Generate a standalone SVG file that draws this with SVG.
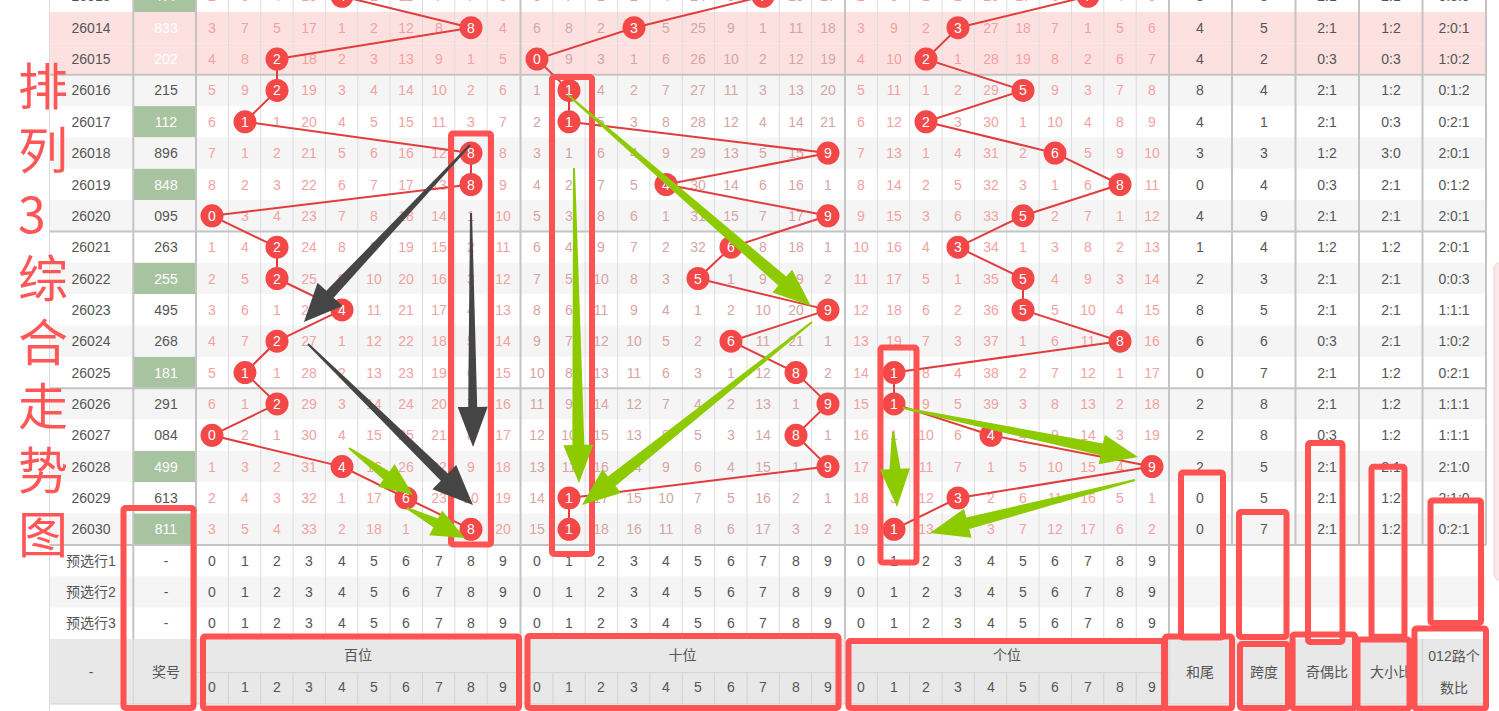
<svg xmlns="http://www.w3.org/2000/svg" width="1499" height="711" viewBox="0 0 1499 711">
<defs>
<style>
text{font-family:"Liberation Sans",Arial,"Noto Sans CJK SC",sans-serif;font-size:14px;text-anchor:middle}
.bw{fill:#ffffff}.bg{fill:#f5f5f5}.bp{fill:#fde1e1}.gc{fill:#a8c3a0}
.d{fill:#555555}.w{fill:#ffffff}.o{fill:#f3a2a2}.o2{fill:#d6a5a5}
.thin{stroke:#dddddd;stroke-width:1}
.thick{stroke:#c4c4c4;stroke-width:2}
.fl{stroke:#d2d2d2;stroke-width:1}
.conn{fill:none;stroke:#e23d3d;stroke-width:2;stroke-linejoin:round}
.ball circle{fill:#f44848}
.ball text{fill:#ffffff}
.box{fill:none;stroke:#ff5252;stroke-width:6;stroke-linejoin:round}
.darr{fill:#454545}
.garr{fill:#8dcb00}
.title{font-family:"Noto Sans CJK SC","Noto Sans CJK JP",sans-serif;font-size:50px;fill:#ff5757;text-anchor:start}
</style>
</defs>
<rect x="0" y="0" width="1499" height="711" fill="#ffffff"/>
<rect x="1494" y="263" width="10" height="317" rx="5" fill="#fce8e8" stroke="#f6cfcf" stroke-width="1"/>

<g id="rows">
<g id="row26013" transform="translate(0,1.3)"><rect class="bw" x="50" y="-20.7" width="1436" height="31.4"/><rect class="gc" x="134" y="-20.7" width="62" height="31.4"/><text class="d" x="91">26013</text><text class="w" x="166">477</text>
<g class="o"><text x="212">2</text><text x="245">6</text><text x="277">4</text><text x="309">16</text><text x="374">1</text><text x="406">11</text><text x="439">7</text><text x="471">7</text><text x="503">3</text></g>
<g class="o2"><text x="537">5</text><text x="569">7</text><text x="601">1</text><text x="634">2</text><text x="666">4</text><text x="698">24</text><text x="731">8</text><text x="796">10</text><text x="828">17</text></g>
<g class="o"><text x="861">2</text><text x="894">8</text><text x="926">1</text><text x="958">2</text><text x="991">26</text><text x="1023">17</text><text x="1055">6</text><text x="1120">4</text><text x="1152">5</text></g>
<g class="d"><text x="1200">8</text><text x="1264">3</text><text x="1327">2:1</text><text x="1391">2:1</text><text x="1454">0:3:0</text></g></g>

<g id="row26014" transform="translate(0,32.7)"><rect class="bp" x="50" y="-20.7" width="1436" height="31.4"/><text class="d" x="91">26014</text><text class="w" x="166">833</text>
<g class="o"><text x="212">3</text><text x="245">7</text><text x="277">5</text><text x="309">17</text><text x="342">1</text><text x="374">2</text><text x="406">12</text><text x="439">8</text><text x="503">4</text></g>
<g class="o2"><text x="537">6</text><text x="569">8</text><text x="601">2</text><text x="666">5</text><text x="698">25</text><text x="731">9</text><text x="763">1</text><text x="796">11</text><text x="828">18</text></g>
<g class="o"><text x="861">3</text><text x="894">9</text><text x="926">2</text><text x="991">27</text><text x="1023">18</text><text x="1055">7</text><text x="1088">1</text><text x="1120">5</text><text x="1152">6</text></g>
<g class="d"><text x="1200">4</text><text x="1264">5</text><text x="1327">2:1</text><text x="1391">1:2</text><text x="1454">2:0:1</text></g></g>

<g id="row26015" transform="translate(0,64.1)"><rect class="bp" x="50" y="-20.7" width="1436" height="31.4"/><text class="d" x="91">26015</text><text class="w" x="166">202</text>
<g class="o"><text x="212">4</text><text x="245">8</text><text x="309">18</text><text x="342">2</text><text x="374">3</text><text x="406">13</text><text x="439">9</text><text x="471">1</text><text x="503">5</text></g>
<g class="o2"><text x="569">9</text><text x="601">3</text><text x="634">1</text><text x="666">6</text><text x="698">26</text><text x="731">10</text><text x="763">2</text><text x="796">12</text><text x="828">19</text></g>
<g class="o"><text x="861">4</text><text x="894">10</text><text x="958">1</text><text x="991">28</text><text x="1023">19</text><text x="1055">8</text><text x="1088">2</text><text x="1120">6</text><text x="1152">7</text></g>
<g class="d"><text x="1200">4</text><text x="1264">2</text><text x="1327">0:3</text><text x="1391">0:3</text><text x="1454">1:0:2</text></g></g>

<g id="row26016" transform="translate(0,95.4)"><rect class="bg" x="50" y="-20.7" width="1436" height="31.4"/><text class="d" x="91">26016</text><text class="d" x="166">215</text>
<g class="o"><text x="212">5</text><text x="245">9</text><text x="309">19</text><text x="342">3</text><text x="374">4</text><text x="406">14</text><text x="439">10</text><text x="471">2</text><text x="503">6</text></g>
<g class="o2"><text x="537">1</text><text x="601">4</text><text x="634">2</text><text x="666">7</text><text x="698">27</text><text x="731">11</text><text x="763">3</text><text x="796">13</text><text x="828">20</text></g>
<g class="o"><text x="861">5</text><text x="894">11</text><text x="926">1</text><text x="958">2</text><text x="991">29</text><text x="1055">9</text><text x="1088">3</text><text x="1120">7</text><text x="1152">8</text></g>
<g class="d"><text x="1200">8</text><text x="1264">4</text><text x="1327">2:1</text><text x="1391">1:2</text><text x="1454">0:1:2</text></g></g>

<g id="row26017" transform="translate(0,126.8)"><rect class="bw" x="50" y="-20.7" width="1436" height="31.4"/><rect class="gc" x="134" y="-20.7" width="62" height="31.4"/><text class="d" x="91">26017</text><text class="w" x="166">112</text>
<g class="o"><text x="212">6</text><text x="277">1</text><text x="309">20</text><text x="342">4</text><text x="374">5</text><text x="406">15</text><text x="439">11</text><text x="471">3</text><text x="503">7</text></g>
<g class="o2"><text x="537">2</text><text x="601">5</text><text x="634">3</text><text x="666">8</text><text x="698">28</text><text x="731">12</text><text x="763">4</text><text x="796">14</text><text x="828">21</text></g>
<g class="o"><text x="861">6</text><text x="894">12</text><text x="958">3</text><text x="991">30</text><text x="1023">1</text><text x="1055">10</text><text x="1088">4</text><text x="1120">8</text><text x="1152">9</text></g>
<g class="d"><text x="1200">4</text><text x="1264">1</text><text x="1327">2:1</text><text x="1391">0:3</text><text x="1454">0:2:1</text></g></g>

<g id="row26018" transform="translate(0,158.1)"><rect class="bg" x="50" y="-20.7" width="1436" height="31.4"/><text class="d" x="91">26018</text><text class="d" x="166">896</text>
<g class="o"><text x="212">7</text><text x="245">1</text><text x="277">2</text><text x="309">21</text><text x="342">5</text><text x="374">6</text><text x="406">16</text><text x="439">12</text><text x="503">8</text></g>
<g class="o2"><text x="537">3</text><text x="569">1</text><text x="601">6</text><text x="634">4</text><text x="666">9</text><text x="698">29</text><text x="731">13</text><text x="763">5</text><text x="796">15</text></g>
<g class="o"><text x="861">7</text><text x="894">13</text><text x="926">1</text><text x="958">4</text><text x="991">31</text><text x="1023">2</text><text x="1088">5</text><text x="1120">9</text><text x="1152">10</text></g>
<g class="d"><text x="1200">3</text><text x="1264">3</text><text x="1327">1:2</text><text x="1391">3:0</text><text x="1454">2:0:1</text></g></g>

<g id="row26019" transform="translate(0,189.5)"><rect class="bw" x="50" y="-20.7" width="1436" height="31.4"/><rect class="gc" x="134" y="-20.7" width="62" height="31.4"/><text class="d" x="91">26019</text><text class="w" x="166">848</text>
<g class="o"><text x="212">8</text><text x="245">2</text><text x="277">3</text><text x="309">22</text><text x="342">6</text><text x="374">7</text><text x="406">17</text><text x="439">13</text><text x="503">9</text></g>
<g class="o2"><text x="537">4</text><text x="569">2</text><text x="601">7</text><text x="634">5</text><text x="698">30</text><text x="731">14</text><text x="763">6</text><text x="796">16</text><text x="828">1</text></g>
<g class="o"><text x="861">8</text><text x="894">14</text><text x="926">2</text><text x="958">5</text><text x="991">32</text><text x="1023">3</text><text x="1055">1</text><text x="1088">6</text><text x="1152">11</text></g>
<g class="d"><text x="1200">0</text><text x="1264">4</text><text x="1327">0:3</text><text x="1391">2:1</text><text x="1454">0:1:2</text></g></g>

<g id="row26020" transform="translate(0,220.8)"><rect class="bg" x="50" y="-20.7" width="1436" height="31.4"/><text class="d" x="91">26020</text><text class="d" x="166">095</text>
<g class="o"><text x="245">3</text><text x="277">4</text><text x="309">23</text><text x="342">7</text><text x="374">8</text><text x="406">18</text><text x="439">14</text><text x="471">1</text><text x="503">10</text></g>
<g class="o2"><text x="537">5</text><text x="569">3</text><text x="601">8</text><text x="634">6</text><text x="666">1</text><text x="698">31</text><text x="731">15</text><text x="763">7</text><text x="796">17</text></g>
<g class="o"><text x="861">9</text><text x="894">15</text><text x="926">3</text><text x="958">6</text><text x="991">33</text><text x="1055">2</text><text x="1088">7</text><text x="1120">1</text><text x="1152">12</text></g>
<g class="d"><text x="1200">4</text><text x="1264">9</text><text x="1327">2:1</text><text x="1391">2:1</text><text x="1454">2:0:1</text></g></g>

<g id="row26021" transform="translate(0,252.2)"><rect class="bw" x="50" y="-20.7" width="1436" height="31.4"/><text class="d" x="91">26021</text><text class="d" x="166">263</text>
<g class="o"><text x="212">1</text><text x="245">4</text><text x="309">24</text><text x="342">8</text><text x="374">9</text><text x="406">19</text><text x="439">15</text><text x="471">2</text><text x="503">11</text></g>
<g class="o2"><text x="537">6</text><text x="569">4</text><text x="601">9</text><text x="634">7</text><text x="666">2</text><text x="698">32</text><text x="763">8</text><text x="796">18</text><text x="828">1</text></g>
<g class="o"><text x="861">10</text><text x="894">16</text><text x="926">4</text><text x="991">34</text><text x="1023">1</text><text x="1055">3</text><text x="1088">8</text><text x="1120">2</text><text x="1152">13</text></g>
<g class="d"><text x="1200">1</text><text x="1264">4</text><text x="1327">1:2</text><text x="1391">1:2</text><text x="1454">2:0:1</text></g></g>

<g id="row26022" transform="translate(0,283.5)"><rect class="bg" x="50" y="-20.7" width="1436" height="31.4"/><rect class="gc" x="134" y="-20.7" width="62" height="31.4"/><text class="d" x="91">26022</text><text class="w" x="166">255</text>
<g class="o"><text x="212">2</text><text x="245">5</text><text x="309">25</text><text x="342">9</text><text x="374">10</text><text x="406">20</text><text x="439">16</text><text x="471">3</text><text x="503">12</text></g>
<g class="o2"><text x="537">7</text><text x="569">5</text><text x="601">10</text><text x="634">8</text><text x="666">3</text><text x="731">1</text><text x="763">9</text><text x="796">19</text><text x="828">2</text></g>
<g class="o"><text x="861">11</text><text x="894">17</text><text x="926">5</text><text x="958">1</text><text x="991">35</text><text x="1055">4</text><text x="1088">9</text><text x="1120">3</text><text x="1152">14</text></g>
<g class="d"><text x="1200">2</text><text x="1264">3</text><text x="1327">2:1</text><text x="1391">2:1</text><text x="1454">0:0:3</text></g></g>

<g id="row26023" transform="translate(0,314.9)"><rect class="bw" x="50" y="-20.7" width="1436" height="31.4"/><text class="d" x="91">26023</text><text class="d" x="166">495</text>
<g class="o"><text x="212">3</text><text x="245">6</text><text x="277">1</text><text x="309">26</text><text x="374">11</text><text x="406">21</text><text x="439">17</text><text x="471">4</text><text x="503">13</text></g>
<g class="o2"><text x="537">8</text><text x="569">6</text><text x="601">11</text><text x="634">9</text><text x="666">4</text><text x="698">1</text><text x="731">2</text><text x="763">10</text><text x="796">20</text></g>
<g class="o"><text x="861">12</text><text x="894">18</text><text x="926">6</text><text x="958">2</text><text x="991">36</text><text x="1055">5</text><text x="1088">10</text><text x="1120">4</text><text x="1152">15</text></g>
<g class="d"><text x="1200">8</text><text x="1264">5</text><text x="1327">2:1</text><text x="1391">2:1</text><text x="1454">1:1:1</text></g></g>

<g id="row26024" transform="translate(0,346.2)"><rect class="bg" x="50" y="-20.7" width="1436" height="31.4"/><text class="d" x="91">26024</text><text class="d" x="166">268</text>
<g class="o"><text x="212">4</text><text x="245">7</text><text x="309">27</text><text x="342">1</text><text x="374">12</text><text x="406">22</text><text x="439">18</text><text x="471">5</text><text x="503">14</text></g>
<g class="o2"><text x="537">9</text><text x="569">7</text><text x="601">12</text><text x="634">10</text><text x="666">5</text><text x="698">2</text><text x="763">11</text><text x="796">21</text><text x="828">1</text></g>
<g class="o"><text x="861">13</text><text x="894">19</text><text x="926">7</text><text x="958">3</text><text x="991">37</text><text x="1023">1</text><text x="1055">6</text><text x="1088">11</text><text x="1152">16</text></g>
<g class="d"><text x="1200">6</text><text x="1264">6</text><text x="1327">0:3</text><text x="1391">2:1</text><text x="1454">1:0:2</text></g></g>

<g id="row26025" transform="translate(0,377.6)"><rect class="bw" x="50" y="-20.7" width="1436" height="31.4"/><rect class="gc" x="134" y="-20.7" width="62" height="31.4"/><text class="d" x="91">26025</text><text class="w" x="166">181</text>
<g class="o"><text x="212">5</text><text x="277">1</text><text x="309">28</text><text x="342">2</text><text x="374">13</text><text x="406">23</text><text x="439">19</text><text x="471">6</text><text x="503">15</text></g>
<g class="o2"><text x="537">10</text><text x="569">8</text><text x="601">13</text><text x="634">11</text><text x="666">6</text><text x="698">3</text><text x="731">1</text><text x="763">12</text><text x="828">2</text></g>
<g class="o"><text x="861">14</text><text x="926">8</text><text x="958">4</text><text x="991">38</text><text x="1023">2</text><text x="1055">7</text><text x="1088">12</text><text x="1120">1</text><text x="1152">17</text></g>
<g class="d"><text x="1200">0</text><text x="1264">7</text><text x="1327">2:1</text><text x="1391">1:2</text><text x="1454">0:2:1</text></g></g>

<g id="row26026" transform="translate(0,408.9)"><rect class="bg" x="50" y="-20.7" width="1436" height="31.4"/><text class="d" x="91">26026</text><text class="d" x="166">291</text>
<g class="o"><text x="212">6</text><text x="245">1</text><text x="309">29</text><text x="342">3</text><text x="374">14</text><text x="406">24</text><text x="439">20</text><text x="471">7</text><text x="503">16</text></g>
<g class="o2"><text x="537">11</text><text x="569">9</text><text x="601">14</text><text x="634">12</text><text x="666">7</text><text x="698">4</text><text x="731">2</text><text x="763">13</text><text x="796">1</text></g>
<g class="o"><text x="861">15</text><text x="926">9</text><text x="958">5</text><text x="991">39</text><text x="1023">3</text><text x="1055">8</text><text x="1088">13</text><text x="1120">2</text><text x="1152">18</text></g>
<g class="d"><text x="1200">2</text><text x="1264">8</text><text x="1327">2:1</text><text x="1391">1:2</text><text x="1454">1:1:1</text></g></g>

<g id="row26027" transform="translate(0,440.3)"><rect class="bw" x="50" y="-20.7" width="1436" height="31.4"/><text class="d" x="91">26027</text><text class="d" x="166">084</text>
<g class="o"><text x="245">2</text><text x="277">1</text><text x="309">30</text><text x="342">4</text><text x="374">15</text><text x="406">25</text><text x="439">21</text><text x="471">8</text><text x="503">17</text></g>
<g class="o2"><text x="537">12</text><text x="569">10</text><text x="601">15</text><text x="634">13</text><text x="666">8</text><text x="698">5</text><text x="731">3</text><text x="763">14</text><text x="828">1</text></g>
<g class="o"><text x="861">16</text><text x="894">1</text><text x="926">10</text><text x="958">6</text><text x="1023">4</text><text x="1055">9</text><text x="1088">14</text><text x="1120">3</text><text x="1152">19</text></g>
<g class="d"><text x="1200">2</text><text x="1264">8</text><text x="1327">0:3</text><text x="1391">1:2</text><text x="1454">1:1:1</text></g></g>

<g id="row26028" transform="translate(0,471.6)"><rect class="bg" x="50" y="-20.7" width="1436" height="31.4"/><rect class="gc" x="134" y="-20.7" width="62" height="31.4"/><text class="d" x="91">26028</text><text class="w" x="166">499</text>
<g class="o"><text x="212">1</text><text x="245">3</text><text x="277">2</text><text x="309">31</text><text x="374">16</text><text x="406">26</text><text x="439">22</text><text x="471">9</text><text x="503">18</text></g>
<g class="o2"><text x="537">13</text><text x="569">11</text><text x="601">16</text><text x="634">14</text><text x="666">9</text><text x="698">6</text><text x="731">4</text><text x="763">15</text><text x="796">1</text></g>
<g class="o"><text x="861">17</text><text x="894">2</text><text x="926">11</text><text x="958">7</text><text x="991">1</text><text x="1023">5</text><text x="1055">10</text><text x="1088">15</text><text x="1120">4</text></g>
<g class="d"><text x="1200">2</text><text x="1264">5</text><text x="1327">2:1</text><text x="1391">2:1</text><text x="1454">2:1:0</text></g></g>

<g id="row26029" transform="translate(0,503)"><rect class="bw" x="50" y="-20.7" width="1436" height="31.4"/><text class="d" x="91">26029</text><text class="d" x="166">613</text>
<g class="o"><text x="212">2</text><text x="245">4</text><text x="277">3</text><text x="309">32</text><text x="342">1</text><text x="374">17</text><text x="439">23</text><text x="471">10</text><text x="503">19</text></g>
<g class="o2"><text x="537">14</text><text x="601">17</text><text x="634">15</text><text x="666">10</text><text x="698">7</text><text x="731">5</text><text x="763">16</text><text x="796">2</text><text x="828">1</text></g>
<g class="o"><text x="861">18</text><text x="894">3</text><text x="926">12</text><text x="991">2</text><text x="1023">6</text><text x="1055">11</text><text x="1088">16</text><text x="1120">5</text><text x="1152">1</text></g>
<g class="d"><text x="1200">0</text><text x="1264">5</text><text x="1327">2:1</text><text x="1391">1:2</text><text x="1454">2:1:0</text></g></g>

<g id="row26030" transform="translate(0,534.3)"><rect class="bg" x="50" y="-20.7" width="1436" height="31.4"/><rect class="gc" x="134" y="-20.7" width="62" height="31.4"/><text class="d" x="91">26030</text><text class="w" x="166">811</text>
<g class="o"><text x="212">3</text><text x="245">5</text><text x="277">4</text><text x="309">33</text><text x="342">2</text><text x="374">18</text><text x="406">1</text><text x="439">24</text><text x="503">20</text></g>
<g class="o2"><text x="537">15</text><text x="601">18</text><text x="634">16</text><text x="666">11</text><text x="698">8</text><text x="731">6</text><text x="763">17</text><text x="796">3</text><text x="828">2</text></g>
<g class="o"><text x="861">19</text><text x="926">13</text><text x="958">4</text><text x="991">3</text><text x="1023">7</text><text x="1055">12</text><text x="1088">17</text><text x="1120">6</text><text x="1152">2</text></g>
<g class="d"><text x="1200">0</text><text x="1264">7</text><text x="1327">2:1</text><text x="1391">1:2</text><text x="1454">0:2:1</text></g></g>

<g id="pre1" transform="translate(0,565.7)"><rect class="bw" x="50" y="-20.7" width="1436" height="31.4"/><text class="d" x="91">预选行1</text><text class="d" x="166">-</text>
<g class="d"><text x="212">0</text><text x="245">1</text><text x="277">2</text><text x="309">3</text><text x="342">4</text><text x="374">5</text><text x="406">6</text><text x="439">7</text><text x="471">8</text><text x="503">9</text><text x="537">0</text><text x="569">1</text><text x="601">2</text><text x="634">3</text><text x="666">4</text><text x="698">5</text><text x="731">6</text><text x="763">7</text><text x="796">8</text><text x="828">9</text><text x="861">0</text><text x="894">1</text><text x="926">2</text><text x="958">3</text><text x="991">4</text><text x="1023">5</text><text x="1055">6</text><text x="1088">7</text><text x="1120">8</text><text x="1152">9</text></g></g>
<g id="pre2" transform="translate(0,597)"><rect class="bg" x="50" y="-20.7" width="1436" height="31.4"/><text class="d" x="91">预选行2</text><text class="d" x="166">-</text>
<g class="d"><text x="212">0</text><text x="245">1</text><text x="277">2</text><text x="309">3</text><text x="342">4</text><text x="374">5</text><text x="406">6</text><text x="439">7</text><text x="471">8</text><text x="503">9</text><text x="537">0</text><text x="569">1</text><text x="601">2</text><text x="634">3</text><text x="666">4</text><text x="698">5</text><text x="731">6</text><text x="763">7</text><text x="796">8</text><text x="828">9</text><text x="861">0</text><text x="894">1</text><text x="926">2</text><text x="958">3</text><text x="991">4</text><text x="1023">5</text><text x="1055">6</text><text x="1088">7</text><text x="1120">8</text><text x="1152">9</text></g></g>
<g id="pre3" transform="translate(0,628.4)"><rect class="bw" x="50" y="-20.7" width="1436" height="31.4"/><text class="d" x="91">预选行3</text><text class="d" x="166">-</text>
<g class="d"><text x="212">0</text><text x="245">1</text><text x="277">2</text><text x="309">3</text><text x="342">4</text><text x="374">5</text><text x="406">6</text><text x="439">7</text><text x="471">8</text><text x="503">9</text><text x="537">0</text><text x="569">1</text><text x="601">2</text><text x="634">3</text><text x="666">4</text><text x="698">5</text><text x="731">6</text><text x="763">7</text><text x="796">8</text><text x="828">9</text><text x="861">0</text><text x="894">1</text><text x="926">2</text><text x="958">3</text><text x="991">4</text><text x="1023">5</text><text x="1055">6</text><text x="1088">7</text><text x="1120">8</text><text x="1152">9</text></g></g>
</g>

<g id="footer">
<rect x="50" y="639" width="1436" height="65" fill="#e8e8e8"/>
<g class="fl">
<line x1="196" y1="672.7" x2="1169" y2="672.7"/>
<line x1="133.3" y1="639" x2="133.3" y2="704"/><line x1="196" y1="639" x2="196" y2="704"/><line x1="520.5" y1="639" x2="520.5" y2="704"/><line x1="845" y1="639" x2="845" y2="704"/><line x1="1169" y1="639" x2="1169" y2="704"/><line x1="1232" y1="639" x2="1232" y2="704"/><line x1="1295.5" y1="639" x2="1295.5" y2="704"/><line x1="1359" y1="639" x2="1359" y2="704"/><line x1="1422.5" y1="639" x2="1422.5" y2="704"/>
<line x1="228.4" y1="672.7" x2="228.4" y2="704"/><line x1="260.7" y1="672.7" x2="260.7" y2="704"/><line x1="293.1" y1="672.7" x2="293.1" y2="704"/><line x1="325.4" y1="672.7" x2="325.4" y2="704"/><line x1="357.8" y1="672.7" x2="357.8" y2="704"/><line x1="390.1" y1="672.7" x2="390.1" y2="704"/><line x1="422.5" y1="672.7" x2="422.5" y2="704"/><line x1="454.8" y1="672.7" x2="454.8" y2="704"/><line x1="487.2" y1="672.7" x2="487.2" y2="704"/>
<line x1="552.9" y1="672.7" x2="552.9" y2="704"/><line x1="585.2" y1="672.7" x2="585.2" y2="704"/><line x1="617.6" y1="672.7" x2="617.6" y2="704"/><line x1="649.9" y1="672.7" x2="649.9" y2="704"/><line x1="682.3" y1="672.7" x2="682.3" y2="704"/><line x1="714.6" y1="672.7" x2="714.6" y2="704"/><line x1="747" y1="672.7" x2="747" y2="704"/><line x1="779.3" y1="672.7" x2="779.3" y2="704"/><line x1="811.7" y1="672.7" x2="811.7" y2="704"/>
<line x1="877.4" y1="672.7" x2="877.4" y2="704"/><line x1="909.7" y1="672.7" x2="909.7" y2="704"/><line x1="942.1" y1="672.7" x2="942.1" y2="704"/><line x1="974.4" y1="672.7" x2="974.4" y2="704"/><line x1="1006.8" y1="672.7" x2="1006.8" y2="704"/><line x1="1039.1" y1="672.7" x2="1039.1" y2="704"/><line x1="1071.5" y1="672.7" x2="1071.5" y2="704"/><line x1="1103.8" y1="672.7" x2="1103.8" y2="704"/><line x1="1136.2" y1="672.7" x2="1136.2" y2="704"/>
<line x1="50" y1="704" x2="1486" y2="704"/>
</g>
<g class="d">
<text x="91" y="677">-</text><text x="166" y="677">奖号</text>
<text x="358" y="660">百位</text><text x="682.5" y="660">十位</text><text x="1007" y="660">个位</text>
<text x="1200" y="677">和尾</text><text x="1264" y="677">跨度</text><text x="1327" y="677">奇偶比</text><text x="1391" y="677">大小比</text>
<text x="1454" y="661">012路个</text><text x="1454" y="693">数比</text>
<text x="212" y="692">0</text><text x="245" y="692">1</text><text x="277" y="692">2</text><text x="309" y="692">3</text><text x="342" y="692">4</text><text x="374" y="692">5</text><text x="406" y="692">6</text><text x="439" y="692">7</text><text x="471" y="692">8</text><text x="503" y="692">9</text>
<text x="537" y="692">0</text><text x="569" y="692">1</text><text x="601" y="692">2</text><text x="634" y="692">3</text><text x="666" y="692">4</text><text x="698" y="692">5</text><text x="731" y="692">6</text><text x="763" y="692">7</text><text x="796" y="692">8</text><text x="828" y="692">9</text>
<text x="861" y="692">0</text><text x="894" y="692">1</text><text x="926" y="692">2</text><text x="958" y="692">3</text><text x="991" y="692">4</text><text x="1023" y="692">5</text><text x="1055" y="692">6</text><text x="1088" y="692">7</text><text x="1120" y="692">8</text><text x="1152" y="692">9</text>
</g>
</g>

<g id="grid">
<g class="thin">
<line x1="228.4" y1="-20" x2="228.4" y2="639"/><line x1="260.7" y1="-20" x2="260.7" y2="639"/><line x1="293.1" y1="-20" x2="293.1" y2="639"/><line x1="325.4" y1="-20" x2="325.4" y2="639"/><line x1="357.8" y1="-20" x2="357.8" y2="639"/><line x1="390.1" y1="-20" x2="390.1" y2="639"/><line x1="422.5" y1="-20" x2="422.5" y2="639"/><line x1="454.8" y1="-20" x2="454.8" y2="639"/><line x1="487.2" y1="-20" x2="487.2" y2="639"/>
<line x1="552.9" y1="-20" x2="552.9" y2="639"/><line x1="585.2" y1="-20" x2="585.2" y2="639"/><line x1="617.6" y1="-20" x2="617.6" y2="639"/><line x1="649.9" y1="-20" x2="649.9" y2="639"/><line x1="682.3" y1="-20" x2="682.3" y2="639"/><line x1="714.6" y1="-20" x2="714.6" y2="639"/><line x1="747" y1="-20" x2="747" y2="639"/><line x1="779.3" y1="-20" x2="779.3" y2="639"/><line x1="811.7" y1="-20" x2="811.7" y2="639"/>
<line x1="877.4" y1="-20" x2="877.4" y2="639"/><line x1="909.7" y1="-20" x2="909.7" y2="639"/><line x1="942.1" y1="-20" x2="942.1" y2="639"/><line x1="974.4" y1="-20" x2="974.4" y2="639"/><line x1="1006.8" y1="-20" x2="1006.8" y2="639"/><line x1="1039.1" y1="-20" x2="1039.1" y2="639"/><line x1="1071.5" y1="-20" x2="1071.5" y2="639"/><line x1="1103.8" y1="-20" x2="1103.8" y2="639"/><line x1="1136.2" y1="-20" x2="1136.2" y2="639"/>
<line x1="49.5" y1="-20" x2="49.5" y2="711"/>
</g>
<g class="thick">
<line x1="133.3" y1="-20" x2="133.3" y2="639"/><line x1="196" y1="-20" x2="196" y2="639"/><line x1="520.5" y1="-20" x2="520.5" y2="639"/><line x1="845" y1="-20" x2="845" y2="639"/><line x1="1169" y1="-20" x2="1169" y2="639"/>
<line x1="1232" y1="-20" x2="1232" y2="545"/><line x1="1295.5" y1="-20" x2="1295.5" y2="545"/><line x1="1359" y1="-20" x2="1359" y2="545"/><line x1="1422.5" y1="-20" x2="1422.5" y2="545"/><line x1="1486" y1="-20" x2="1486" y2="545"/>
<line x1="50" y1="74.7" x2="1486" y2="74.7"/><line x1="50" y1="231.5" x2="1486" y2="231.5"/><line x1="50" y1="388.2" x2="1486" y2="388.2"/><line x1="50" y1="545" x2="1486" y2="545"/>
</g>
</g>

<g id="connectors">
<polyline class="conn" points="342,-3.7 471,27.7 277,59.1 277,90.4 245,121.8 471,153.1 471,184.5 212,215.8 277,247.2 277,278.5 342,309.9 277,341.2 245,372.6 277,403.9 212,435.3 342,466.6 406,498 471,529.3"/>
<polyline class="conn" points="763,-3.7 634,27.7 537,59.1 569,90.4 569,121.8 828,153.1 666,184.5 828,215.8 731,247.2 698,278.5 828,309.9 731,341.2 796,372.6 828,403.9 796,435.3 828,466.6 569,498 569,529.3"/>
<polyline class="conn" points="1088,-3.7 958,27.7 926,59.1 1023,90.4 926,121.8 1055,153.1 1120,184.5 1023,215.8 958,247.2 1023,278.5 1023,309.9 1120,341.2 894,372.6 894,403.9 991,435.3 1152,466.6 958,498 894,529.3"/>
</g>

<g id="balls">
<g id="h26013" class="ball"><circle cx="342" cy="-3.7" r="11.5"/><text x="342" y="1.3">4</text></g>
<g id="h26014" class="ball"><circle cx="471" cy="27.7" r="11.5"/><text x="471" y="32.7">8</text></g>
<g id="h26015" class="ball"><circle cx="277" cy="59.1" r="11.5"/><text x="277" y="64.1">2</text></g>
<g id="h26016" class="ball"><circle cx="277" cy="90.4" r="11.5"/><text x="277" y="95.4">2</text></g>
<g id="h26017" class="ball"><circle cx="245" cy="121.8" r="11.5"/><text x="245" y="126.8">1</text></g>
<g id="h26018" class="ball"><circle cx="471" cy="153.1" r="11.5"/><text x="471" y="158.1">8</text></g>
<g id="h26019" class="ball"><circle cx="471" cy="184.5" r="11.5"/><text x="471" y="189.5">8</text></g>
<g id="h26020" class="ball"><circle cx="212" cy="215.8" r="11.5"/><text x="212" y="220.8">0</text></g>
<g id="h26021" class="ball"><circle cx="277" cy="247.2" r="11.5"/><text x="277" y="252.2">2</text></g>
<g id="h26022" class="ball"><circle cx="277" cy="278.5" r="11.5"/><text x="277" y="283.5">2</text></g>
<g id="h26023" class="ball"><circle cx="342" cy="309.9" r="11.5"/><text x="342" y="314.9">4</text></g>
<g id="h26024" class="ball"><circle cx="277" cy="341.2" r="11.5"/><text x="277" y="346.2">2</text></g>
<g id="h26025" class="ball"><circle cx="245" cy="372.6" r="11.5"/><text x="245" y="377.6">1</text></g>
<g id="h26026" class="ball"><circle cx="277" cy="403.9" r="11.5"/><text x="277" y="408.9">2</text></g>
<g id="h26027" class="ball"><circle cx="212" cy="435.3" r="11.5"/><text x="212" y="440.3">0</text></g>
<g id="h26028" class="ball"><circle cx="342" cy="466.6" r="11.5"/><text x="342" y="471.6">4</text></g>
<g id="h26029" class="ball"><circle cx="406" cy="498" r="11.5"/><text x="406" y="503">6</text></g>
<g id="h26030" class="ball"><circle cx="471" cy="529.3" r="11.5"/><text x="471" y="534.3">8</text></g>
<g id="t26013" class="ball"><circle cx="763" cy="-3.7" r="11.5"/><text x="763" y="1.3">7</text></g>
<g id="t26014" class="ball"><circle cx="634" cy="27.7" r="11.5"/><text x="634" y="32.7">3</text></g>
<g id="t26015" class="ball"><circle cx="537" cy="59.1" r="11.5"/><text x="537" y="64.1">0</text></g>
<g id="t26016" class="ball"><circle cx="569" cy="90.4" r="11.5"/><text x="569" y="95.4">1</text></g>
<g id="t26017" class="ball"><circle cx="569" cy="121.8" r="11.5"/><text x="569" y="126.8">1</text></g>
<g id="t26018" class="ball"><circle cx="828" cy="153.1" r="11.5"/><text x="828" y="158.1">9</text></g>
<g id="t26019" class="ball"><circle cx="666" cy="184.5" r="11.5"/><text x="666" y="189.5">4</text></g>
<g id="t26020" class="ball"><circle cx="828" cy="215.8" r="11.5"/><text x="828" y="220.8">9</text></g>
<g id="t26021" class="ball"><circle cx="731" cy="247.2" r="11.5"/><text x="731" y="252.2">6</text></g>
<g id="t26022" class="ball"><circle cx="698" cy="278.5" r="11.5"/><text x="698" y="283.5">5</text></g>
<g id="t26023" class="ball"><circle cx="828" cy="309.9" r="11.5"/><text x="828" y="314.9">9</text></g>
<g id="t26024" class="ball"><circle cx="731" cy="341.2" r="11.5"/><text x="731" y="346.2">6</text></g>
<g id="t26025" class="ball"><circle cx="796" cy="372.6" r="11.5"/><text x="796" y="377.6">8</text></g>
<g id="t26026" class="ball"><circle cx="828" cy="403.9" r="11.5"/><text x="828" y="408.9">9</text></g>
<g id="t26027" class="ball"><circle cx="796" cy="435.3" r="11.5"/><text x="796" y="440.3">8</text></g>
<g id="t26028" class="ball"><circle cx="828" cy="466.6" r="11.5"/><text x="828" y="471.6">9</text></g>
<g id="t26029" class="ball"><circle cx="569" cy="498" r="11.5"/><text x="569" y="503">1</text></g>
<g id="t26030" class="ball"><circle cx="569" cy="529.3" r="11.5"/><text x="569" y="534.3">1</text></g>
<g id="u26013" class="ball"><circle cx="1088" cy="-3.7" r="11.5"/><text x="1088" y="1.3">7</text></g>
<g id="u26014" class="ball"><circle cx="958" cy="27.7" r="11.5"/><text x="958" y="32.7">3</text></g>
<g id="u26015" class="ball"><circle cx="926" cy="59.1" r="11.5"/><text x="926" y="64.1">2</text></g>
<g id="u26016" class="ball"><circle cx="1023" cy="90.4" r="11.5"/><text x="1023" y="95.4">5</text></g>
<g id="u26017" class="ball"><circle cx="926" cy="121.8" r="11.5"/><text x="926" y="126.8">2</text></g>
<g id="u26018" class="ball"><circle cx="1055" cy="153.1" r="11.5"/><text x="1055" y="158.1">6</text></g>
<g id="u26019" class="ball"><circle cx="1120" cy="184.5" r="11.5"/><text x="1120" y="189.5">8</text></g>
<g id="u26020" class="ball"><circle cx="1023" cy="215.8" r="11.5"/><text x="1023" y="220.8">5</text></g>
<g id="u26021" class="ball"><circle cx="958" cy="247.2" r="11.5"/><text x="958" y="252.2">3</text></g>
<g id="u26022" class="ball"><circle cx="1023" cy="278.5" r="11.5"/><text x="1023" y="283.5">5</text></g>
<g id="u26023" class="ball"><circle cx="1023" cy="309.9" r="11.5"/><text x="1023" y="314.9">5</text></g>
<g id="u26024" class="ball"><circle cx="1120" cy="341.2" r="11.5"/><text x="1120" y="346.2">8</text></g>
<g id="u26025" class="ball"><circle cx="894" cy="372.6" r="11.5"/><text x="894" y="377.6">1</text></g>
<g id="u26026" class="ball"><circle cx="894" cy="403.9" r="11.5"/><text x="894" y="408.9">1</text></g>
<g id="u26027" class="ball"><circle cx="991" cy="435.3" r="11.5"/><text x="991" y="440.3">4</text></g>
<g id="u26028" class="ball"><circle cx="1152" cy="466.6" r="11.5"/><text x="1152" y="471.6">9</text></g>
<g id="u26029" class="ball"><circle cx="958" cy="498" r="11.5"/><text x="958" y="503">3</text></g>
<g id="u26030" class="ball"><circle cx="894" cy="529.3" r="11.5"/><text x="894" y="534.3">1</text></g>
</g>

<g id="title">
<text class="title" x="18" y="105">排</text>
<text class="title" x="18" y="169">列</text>
<text class="title" x="18" y="233">3</text>
<text class="title" x="18" y="297">综</text>
<text class="title" x="18" y="361">合</text>
<text class="title" x="18" y="425">走</text>
<text class="title" x="18" y="489">势</text>
<text class="title" x="18" y="553">图</text>
</g>

<g id="highlights">
<rect class="box" x="451" y="133.5" width="40" height="411" rx="2"/>
<rect class="box" x="552" y="77" width="40" height="477" rx="2"/>
<rect class="box" x="880.5" y="347.5" width="36" height="215" rx="2"/>
<rect class="box" x="123.5" y="508" width="70" height="200" rx="2"/>
<rect class="box" x="203" y="636.5" width="316" height="72" rx="2"/>
<rect class="box" x="527.5" y="636" width="311" height="72" rx="2"/>
<rect class="box" x="848.5" y="641" width="315.5" height="67" rx="2"/>
<rect class="box" x="1181" y="472.5" width="42" height="165" rx="2"/>
<rect class="box" x="1165" y="636.5" width="67" height="72" rx="2"/>
<rect class="box" x="1239" y="512" width="47.5" height="125" rx="2"/>
<rect class="box" x="1240" y="644" width="48" height="64" rx="2"/>
<rect class="box" x="1308" y="443" width="34.5" height="199" rx="2"/>
<rect class="box" x="1292.5" y="634.5" width="62.5" height="74" rx="2"/>
<rect class="box" x="1371.5" y="466.7" width="33" height="170" rx="2"/>
<rect class="box" x="1357.5" y="639.5" width="52" height="69" rx="2"/>
<rect class="box" x="1430.5" y="500.5" width="50.5" height="122.5" rx="2"/>
<rect class="box" x="1414.5" y="628.5" width="71.5" height="80" rx="2"/>
</g>

<g id="arrows">
<polygon class="darr" transform="translate(470,145) rotate(133.17)" points="0,-1 204.7,-5 204.7,-17 242.7,0 204.7,17 204.7,5 0,1"/>
<polygon class="darr" transform="translate(471,213) rotate(89.5)" points="0,-1 194,-4.5 194,-15 234,0 194,15 194,4.5 0,1"/>
<polygon class="darr" transform="translate(308,344) rotate(44.3)" points="0,-1 190.5,-5 190.5,-17 230.5,0 190.5,17 190.5,5 0,1"/>
<polygon class="garr" transform="translate(568,95) rotate(40.97)" points="0,-1 283.8,-6 283.8,-15 321.8,0 283.8,15 283.8,6 0,1"/>
<polygon class="garr" transform="translate(574,168) rotate(89.1)" points="0,-1 277,-6 277,-15 315,0 277,15 277,6 0,1"/>
<polygon class="garr" transform="translate(812,322) rotate(141.5)" points="0,-1 255.9,-6 255.9,-15 293.9,0 255.9,15 255.9,6 0,1"/>
<polygon class="garr" transform="translate(903,408) rotate(11.78)" points="0,-1 203,-6 203,-15 240,0 203,15 203,6 0,1"/>
<polygon class="garr" transform="translate(1135,480) rotate(165.5)" points="0,-1 172.7,-6 172.7,-15 211.7,0 172.7,15 172.7,6 0,1"/>
<polygon class="garr" transform="translate(893,432) rotate(86.9)" points="0,-1 37.1,-5.5 37.1,-15 75.1,0 37.1,15 37.1,5.5 0,1"/>
<polygon class="garr" transform="translate(349,448) rotate(36.3)" points="0,-1 46.4,-5 46.4,-14 79.4,0 46.4,14 46.4,5 0,1"/>
<polygon class="garr" transform="translate(407,508) rotate(27.35)" points="0,-1 32.3,-5 32.3,-14 65.3,0 32.3,14 32.3,5 0,1"/>
</g>
</svg>
